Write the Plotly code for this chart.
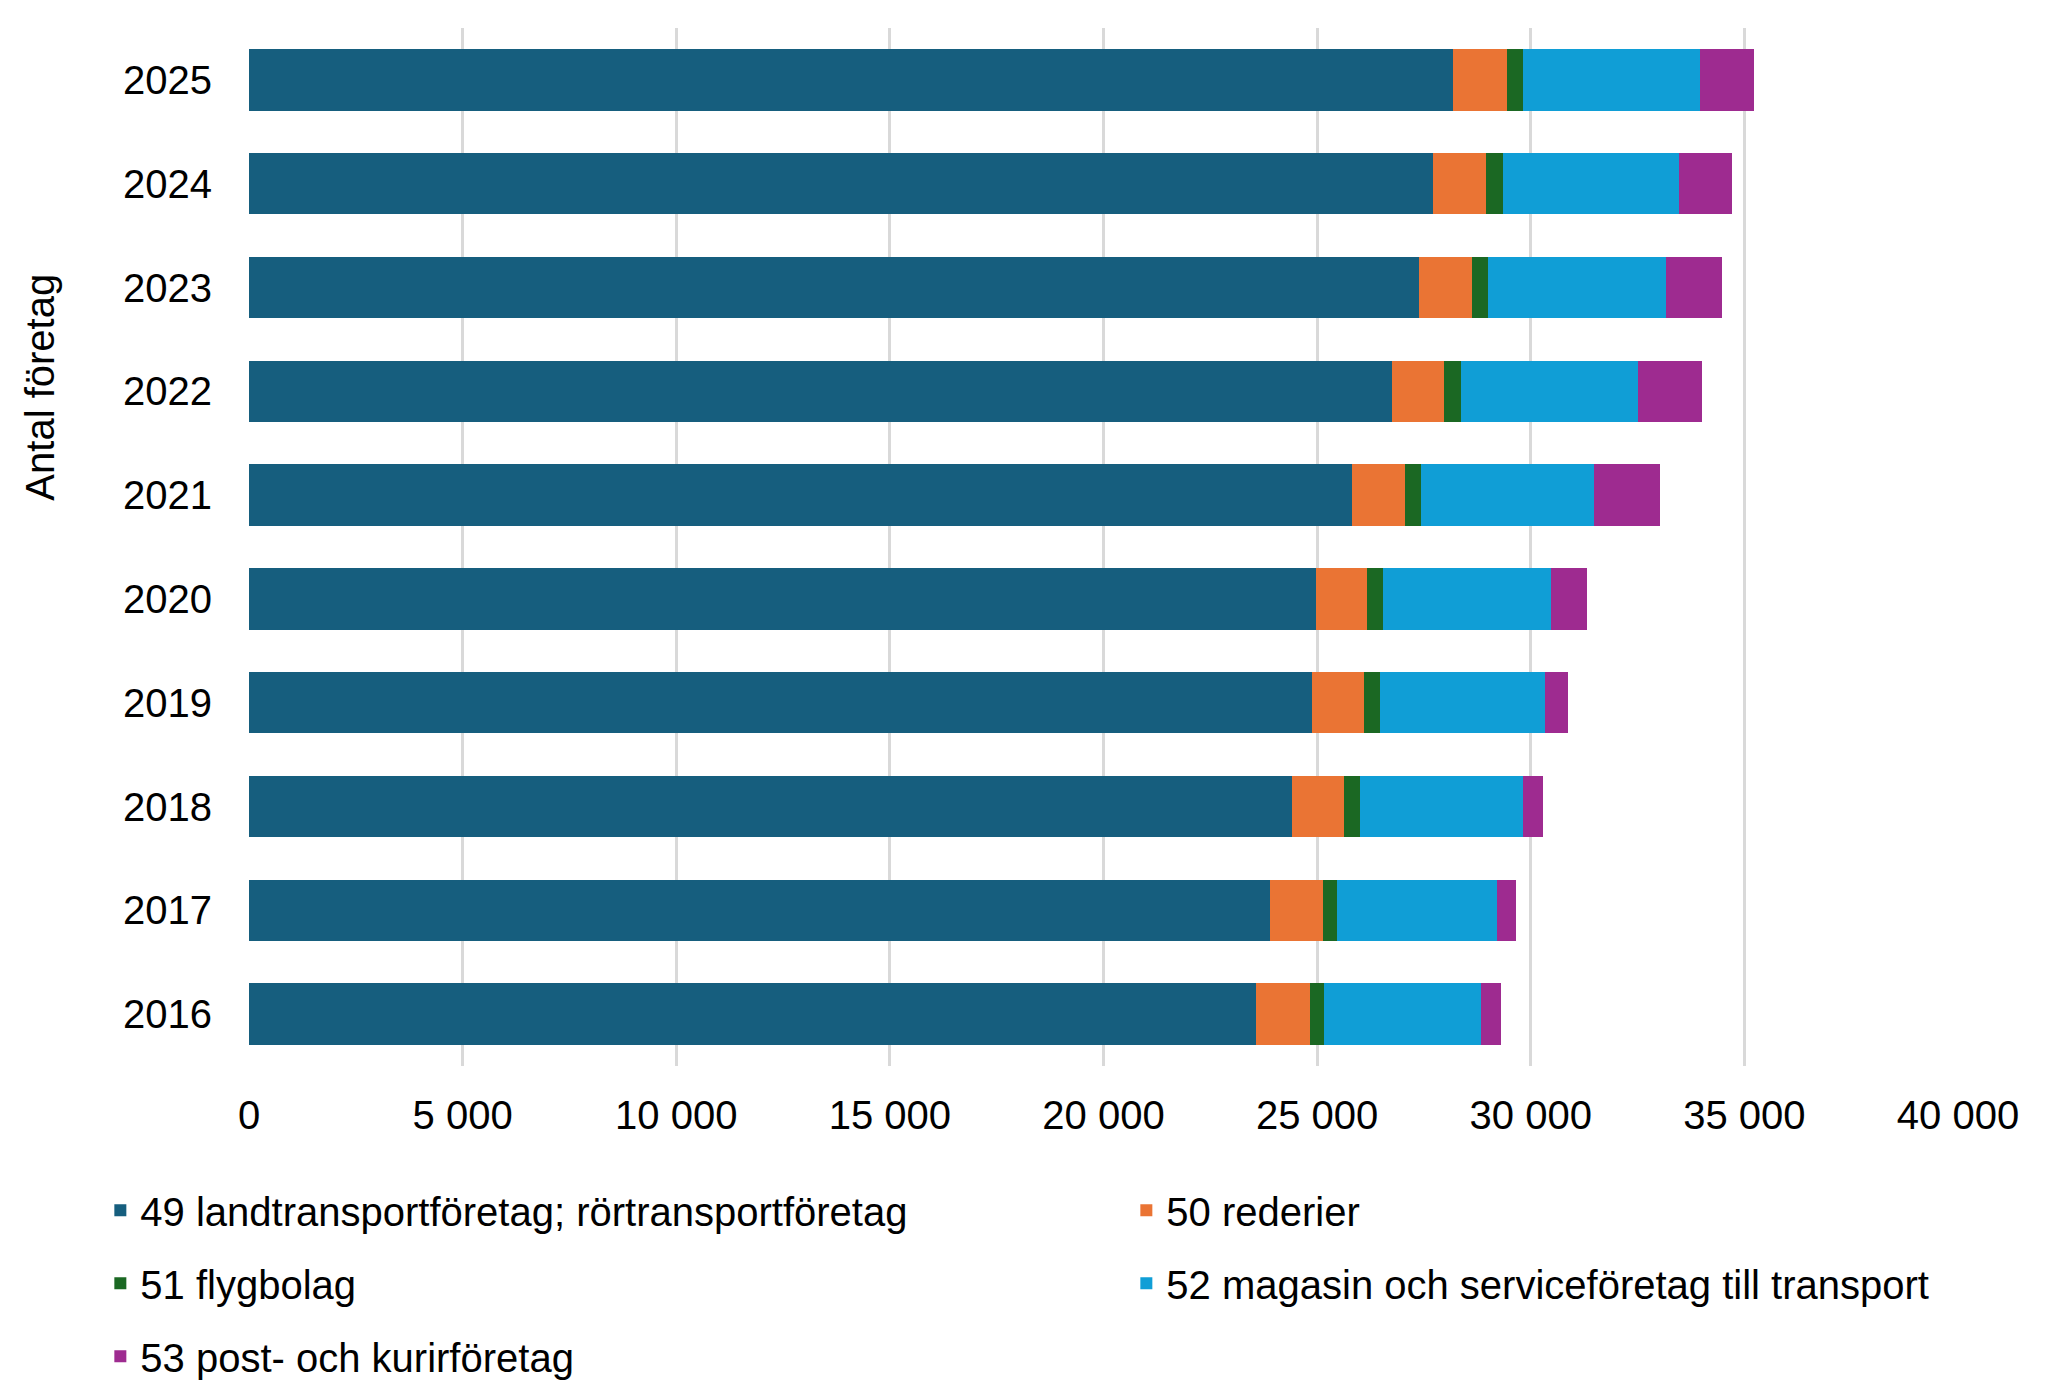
import plotly.graph_objects as go

# Antal företag per år och bransch (SNI 49-53)
years = ["2016", "2017", "2018", "2019", "2020", "2021", "2022", "2023", "2024", "2025"]

sni49 = [23570, 23890, 24410, 24880, 24970, 25810, 26750, 27380, 27710, 28180]
sni50 = [1260, 1240, 1220, 1220, 1190, 1240, 1220, 1240, 1240, 1260]
sni51 = [340, 330, 370, 380, 380, 370, 390, 390, 400, 380]
sni52 = [3670, 3750, 3820, 3860, 3940, 4070, 4140, 4150, 4130, 4140]
sni53 = [460, 440, 460, 530, 840, 1540, 1500, 1320, 1240, 1260]

series_names = [
    "49 landtransportföretag; rörtransportföretag",
    "50 rederier",
    "51 flygbolag",
    "52 magasin och serviceföretag till transport",
    "53 post- och kurirföretag",
]

x_ticks = [0, 5000, 10000, 15000, 20000, 25000, 30000, 35000, 40000]
x_ticklabels = ["0", "5 000", "10 000", "15 000", "20 000", "25 000", "30 000", "35 000", "40 000"]

COLORS = ["#165E7E", "#EA7434", "#1B6823", "#109ED6", "#9E2B90"]
# vänster kolumn: 49, 51, 53 ; höger kolumn: 50, 52
LEGENDS = ["legend", "legend2", "legend", "legend2", "legend"]

FONT = "Liberation Sans, Arial, sans-serif"
W, H = 2052, 1396
# sidans body-marginal (8 px) dras av
M_L, M_R, M_T, M_B = 241, 102, 20, 338

fig = go.Figure()
for i, (name, vals) in enumerate(zip(series_names, [sni49, sni50, sni51, sni52, sni53])):
    fig.add_trace(go.Bar(
        y=years,
        x=vals,
        name=name,
        orientation="h",
        marker=dict(color=COLORS[i], line=dict(width=0)),
        legend=LEGENDS[i],
        legendgroup=str(i),
    ))

legend_style = dict(
    orientation="v",
    xref="container",
    yref="container",
    yanchor="top",
    xanchor="left",
    font=dict(family=FONT, size=40, color="#000000"),
    bgcolor="rgba(0,0,0,0)",
    tracegroupgap=18,
    itemclick=False,
)

fig.update_layout(
    width=W,
    height=H,
    margin=dict(l=M_L, r=M_R, t=M_T, b=M_B, pad=0, autoexpand=False),
    paper_bgcolor="white",
    plot_bgcolor="white",
    barmode="stack",
    bargap=0.41,
    font=dict(family=FONT, size=40, color="#000000"),
    xaxis=dict(
        range=[0, 40000],
        tickvals=x_ticks,
        ticktext=x_ticklabels,
        showgrid=True,
        gridcolor="#D9D9D9",
        gridwidth=2.5,
        zeroline=False,
        showline=False,
        ticks="",
        ticklabelstandoff=22,
        tickfont=dict(family=FONT, size=40),
        automargin=False,
        fixedrange=True,
    ),
    yaxis=dict(
        type="category",
        categoryorder="array",
        categoryarray=years,
        showgrid=False,
        zeroline=False,
        showline=False,
        ticks="",
        ticklabelstandoff=36,
        tickfont=dict(family=FONT, size=40),
        automargin=False,
        fixedrange=True,
    ),
    legend=dict(legend_style, x=0.045, y=0.162),
    legend2=dict(legend_style, x=0.545, y=0.162),
    annotations=[dict(
        text="Antal företag",
        textangle=-90,
        xref="paper",
        yref="paper",
        x=-0.122,
        y=0.654,
        xanchor="center",
        yanchor="middle",
        showarrow=False,
        font=dict(family=FONT, size=40, color="#000000"),
    )],
)

fig.write_html("out.html")
